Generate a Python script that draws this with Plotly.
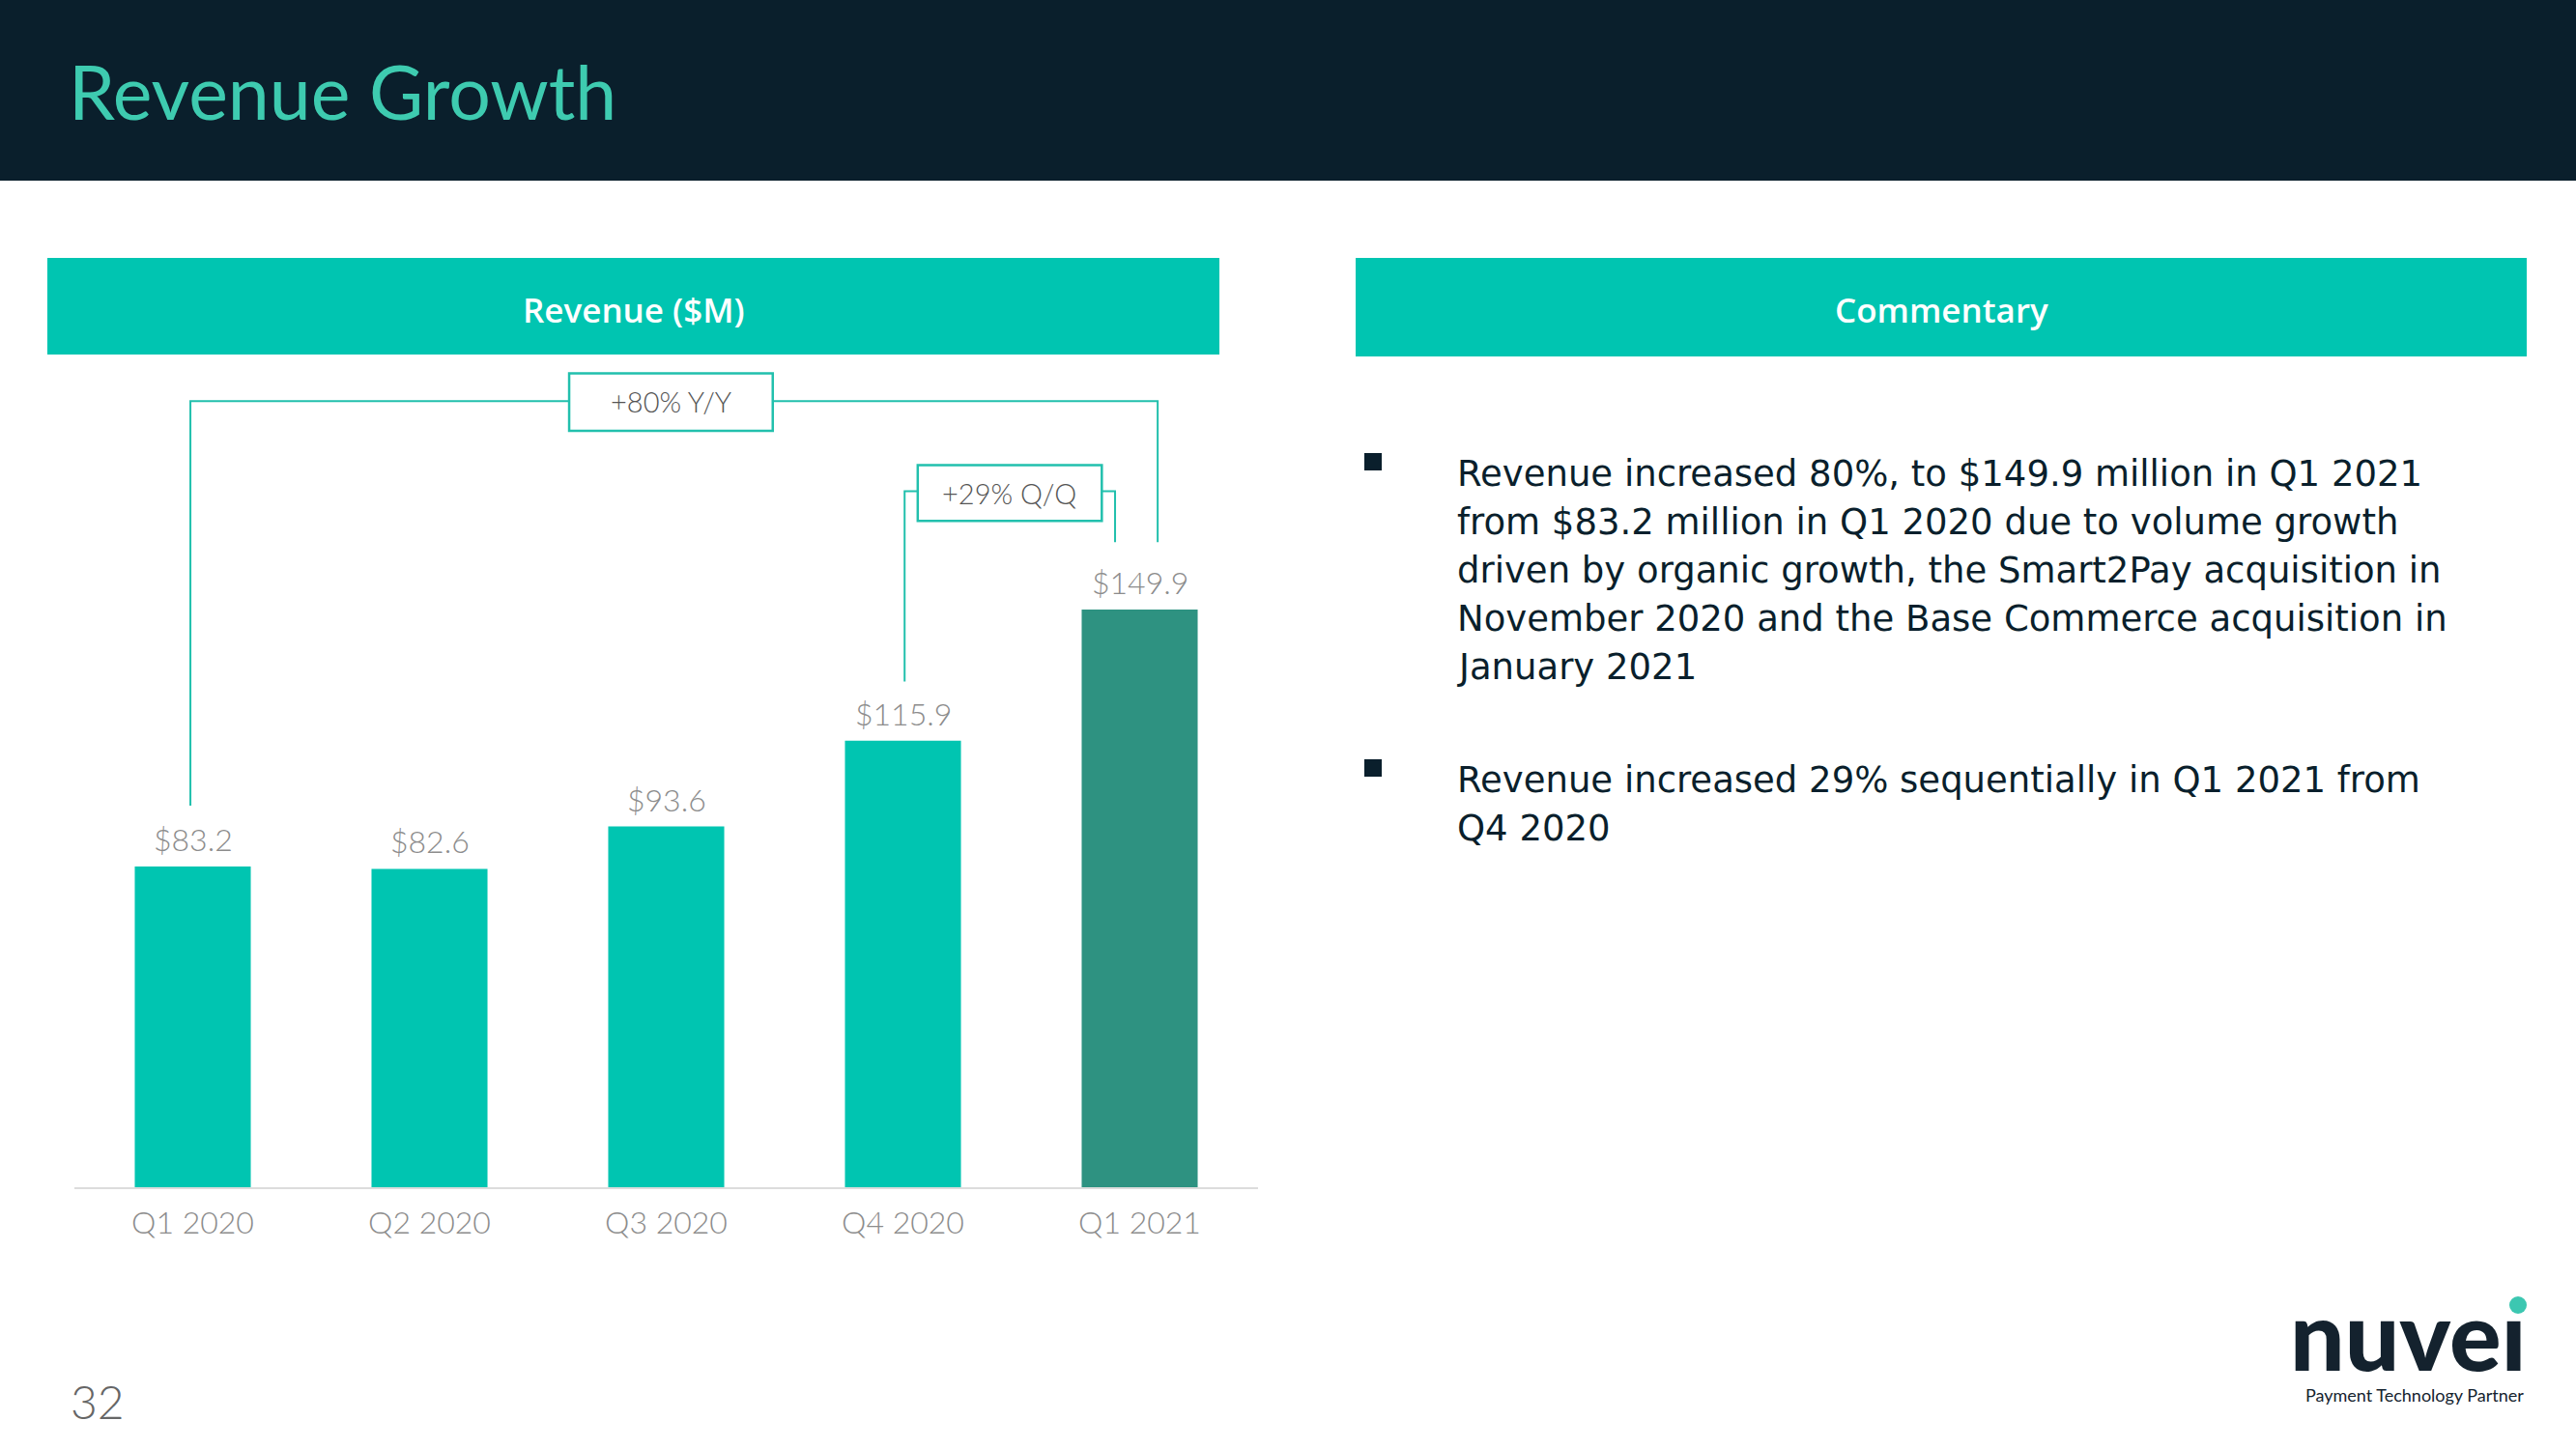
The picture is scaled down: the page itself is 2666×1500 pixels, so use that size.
import plotly.graph_objects as go

# ---------------- data ----------------
quarters = ["Q1 2020", "Q2 2020", "Q3 2020", "Q4 2020", "Q1 2021"]
revenue = [83.2, 82.6, 93.6, 115.9, 149.9]
bar_colors = ["#00c5b1", "#00c5b1", "#00c5b1", "#00c5b1", "#2e9281"]
yoy_label = "+80% Y/Y"
qoq_label = "+29% Q/Q"

bullet_1 = [
    "Revenue increased 80%, to $149.9 million in Q1 2021",
    "from $83.2 million in Q1 2020 due to volume growth",
    "driven by organic growth, the Smart2Pay acquisition in",
    "November 2020 and the Base Commerce acquisition in",
    "January 2021",
]
bullet_2 = [
    "Revenue increased 29% sequentially in Q1 2021 from",
    "Q4 2020",
]

W, H = 2666, 1500
TEAL = "#00c5b1"
DARK = "#0a1f2c"
LINE = "#22c0ad"
GRAY = "#8c8c8c"
FONT = "Lato"


def px(x):
    return x / W


def py(y):
    return 1 - y / H


fig = go.Figure()
fig.add_trace(go.Bar(
    x=list(range(len(quarters))), y=revenue,
    marker=dict(color=bar_colors, line=dict(width=0)),
    width=0.49, hoverinfo="skip", showlegend=False,
))

# plot area geometry
base_px, top_px = 1229, 380
units_per_px = 149.9 / 598.0
ymax = (base_px - top_px) * units_per_px

shapes = []
annotations = []

# header band
shapes.append(dict(type="rect", xref="paper", yref="paper", x0=0, x1=1,
                   y0=py(187), y1=1, fillcolor=DARK, line=dict(width=0), layer="below"))
# panel headers
shapes.append(dict(type="rect", xref="paper", yref="paper", x0=px(49), x1=px(1262),
                   y0=py(367), y1=py(267), fillcolor=TEAL, line=dict(width=0), layer="below"))
shapes.append(dict(type="rect", xref="paper", yref="paper", x0=px(1403), x1=px(2615),
                   y0=py(369), y1=py(267), fillcolor=TEAL, line=dict(width=0), layer="below"))

# brackets (data coords)
shapes.append(dict(type="path", xref="x", yref="y",
                   path="M -0.01,99 L -0.01,204 L 4.076,204 L 4.076,167.4",
                   line=dict(color=LINE, width=2)))
shapes.append(dict(type="rect", xref="x", yref="y", x0=1.59, x1=2.45, y0=196.3, y1=211.2,
                   fillcolor="white", line=dict(color=LINE, width=2.5)))
shapes.append(dict(type="path", xref="x", yref="y",
                   path="M 3.007,131.2 L 3.007,180.6 L 3.896,180.6 L 3.896,167.4",
                   line=dict(color=LINE, width=2)))
shapes.append(dict(type="rect", xref="x", yref="y", x0=3.0625, x1=3.84, y0=172.9, y1=187.4,
                   fillcolor="white", line=dict(color=LINE, width=2.5)))
annotations.append(dict(xref="x", yref="y", x=2.02, y=203.8, text=yoy_label, showarrow=False,
                        xanchor="center", yanchor="middle",
                        font=dict(family=FONT, size=29, color="#555555", weight=300)))
annotations.append(dict(xref="x", yref="y", x=3.45, y=180.2, text=qoq_label, showarrow=False,
                        xanchor="center", yanchor="middle",
                        font=dict(family=FONT, size=29, color="#555555", weight=300)))

# value labels
for i, v in enumerate(revenue):
    annotations.append(dict(xref="x", yref="y", x=i, y=v, text=f"${v:.1f}", showarrow=False,
                            yanchor="bottom", yshift=7,
                            font=dict(family=FONT, size=32, color=GRAY, weight=300)))

# title
annotations.append(dict(xref="paper", yref="paper", x=px(69), y=py(94), xanchor="left",
                        yanchor="middle", text="Revenue Growth", showarrow=False,
                        font=dict(family=FONT, size=77, color="#3ecbb0", weight=400)))
# panel header titles
annotations.append(dict(xref="paper", yref="paper", x=px(656), y=py(320), text="Revenue ($M)",
                        xanchor="center", yanchor="middle", showarrow=False,
                        font=dict(family="Open Sans", size=35, color="white", weight=600)))
annotations.append(dict(xref="paper", yref="paper", x=px(2009), y=py(320), text="Commentary",
                        xanchor="center", yanchor="middle", showarrow=False,
                        font=dict(family="Open Sans", size=35, color="white", weight=600)))

# commentary
def add_lines(lines, y0):
    for k, t in enumerate(lines):
        annotations.append(dict(xref="paper", yref="paper", x=px(1506), y=py(y0 + 50 * k + 3),
                                xanchor="left", yanchor="middle", text=t, showarrow=False,
                                font=dict(family="DejaVu Sans", size=37, color=DARK)))


add_lines(bullet_1, 487)
add_lines(bullet_2, 805)
for cy in (478, 795):
    shapes.append(dict(type="rect", xref="paper", yref="paper", x0=px(1412), x1=px(1430),
                       y0=py(cy + 9), y1=py(cy - 9), fillcolor=DARK, line=dict(width=0)))

# page number
annotations.append(dict(xref="paper", yref="paper", x=px(71), y=py(1450), xanchor="left",
                        yanchor="middle", text="32", showarrow=False,
                        font=dict(family=FONT, size=48, color="#666666", weight=300)))

# logo
annotations.append(dict(xref="paper", yref="paper", x=px(2617), y=py(1380), xanchor="right",
                        yanchor="middle", text="nuve\u0131", showarrow=False,
                        font=dict(family=FONT, size=100, color="#14222e", weight=900)))
shapes.append(dict(type="circle", xref="paper", yref="paper", x0=px(2597), x1=px(2615),
                   y0=py(1360), y1=py(1342), fillcolor="#3cc7b1", line=dict(width=0)))
annotations.append(dict(xref="paper", yref="paper", x=px(2614), y=py(1444), xanchor="right",
                        yanchor="middle", text="Payment Technology Partner", showarrow=False,
                        font=dict(family=FONT, size=18, color="#14222e")))

fig.update_layout(
    width=W, height=H,
    margin=dict(l=0, r=0, t=0, b=0),
    paper_bgcolor="white", plot_bgcolor="white",
    shapes=shapes, annotations=annotations,
    showlegend=False,
    xaxis=dict(domain=[px(77), px(1302)], range=[-0.5, 4.5],
               tickmode="array", tickvals=list(range(len(quarters))), ticktext=quarters,
               showgrid=False, zeroline=False, showline=True, linecolor="#dcdcdc", linewidth=2,
               ticks="", tickfont=dict(family=FONT, size=32, color=GRAY, weight=300),
               ticklabelstandoff=8, fixedrange=True),
    yaxis=dict(domain=[py(base_px), py(top_px)], range=[0, ymax], visible=False,
               showgrid=False, zeroline=False, fixedrange=True),
)

fig.write_html("out.html", config={"displayModeBar": False},
               post_script="document.body.style.margin='0px';")
